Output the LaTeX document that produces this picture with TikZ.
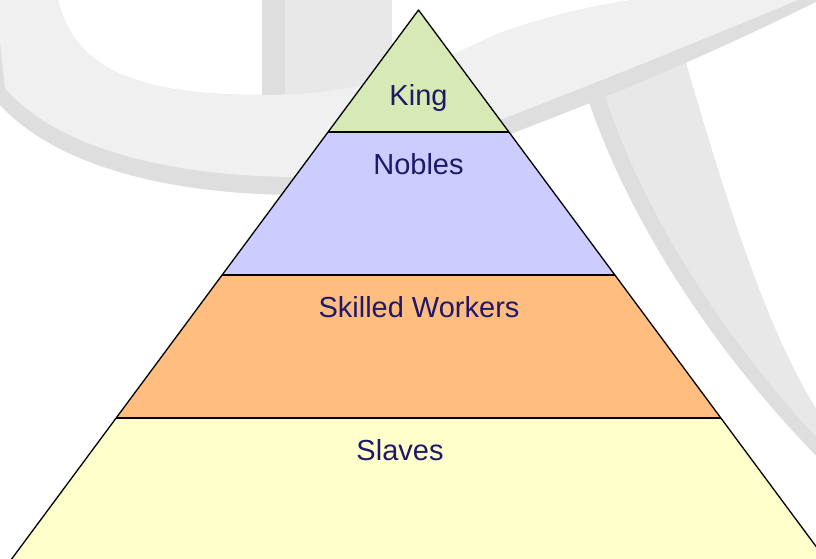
\documentclass[tikz,border=0pt]{standalone}
\usepackage{fontspec}
\setmainfont{Liberation Sans}
\definecolor{kingc}{RGB}{215,233,180}
\definecolor{noblec}{RGB}{204,204,255}
\definecolor{skillc}{RGB}{255,190,128}
\definecolor{slavec}{RGB}{255,255,204}
\definecolor{txtc}{RGB}{32,24,104}
\definecolor{wmlight}{RGB}{240,240,240}
\definecolor{wmmid}{RGB}{232,232,232}
\definecolor{wmdark}{RGB}{222,222,222}
\begin{document}
\begin{tikzpicture}[x=1pt,y=-1pt,
  band/.style={line width=1.3pt,line join=round},
  divline/.style={line width=1.8pt},
  lbl/.style={anchor=base,text=txtc,inner sep=0pt,font=\fontsize{29}{34}\selectfont}]
\useasboundingbox (0,0) rectangle (816,559);
\clip (0,0) rectangle (816,559);
% watermark
\fill[wmdark] (262,-5) rectangle (392,100);
\fill[wmmid] (285,-5) rectangle (392,100);
\fill[wmdark] (585,90) .. controls (620,200) and (700,340) .. (830,470) -- (830,430) .. controls (780,360) and (740,250) .. (685,60) -- cycle;
\fill[wmmid] (603,90) .. controls (638,200) and (718,340) .. (848,470) -- (830,430) .. controls (780,360) and (740,250) .. (685,60) -- cycle;
\fill[wmdark] (57,-5) .. controls (70,60) and (120,95) .. (260,95) .. controls (380,95) and (440,60) .. (500,33) .. controls (580,5) and (650,-5) .. (700,-5) -- (830,-5) .. controls (700,60) and (600,100) .. (500,138) .. controls (420,170) and (380,195) .. (300,195) .. controls (180,195) and (60,170) .. (0,105) -- (-5,-5) -- cycle;
\fill[wmlight] (57,-5) .. controls (70,60) and (120,95) .. (260,95) .. controls (380,95) and (440,60) .. (500,33) .. controls (580,5) and (650,-5) .. (700,-5) -- (810,-5) .. controls (690,45) and (590,85) .. (500,120) .. controls (420,152) and (380,177) .. (300,177) .. controls (180,177) and (60,152) .. (5,88) -- (-5,-5) -- cycle;
% pyramid layers
\fill[slavec] (116.2,418) -- (720.8,418) -- (840.9,580) -- (-3.9,580) -- cycle;
\fill[skillc] (222.1,275) -- (614.9,275) -- (720.8,418) -- (116.2,418) -- cycle;
\fill[noblec] (328.1,132) -- (508.9,132) -- (614.9,275) -- (222.1,275) -- cycle;
\fill[kingc] (418.5,10) -- (508.9,132) -- (328.1,132) -- cycle;
\draw[band] (-3.9,580) -- (418.5,10) -- (840.9,580);
\draw[divline] (328.1,132) -- (508.9,132);
\draw[divline] (222.1,275) -- (614.9,275);
\draw[divline] (116.2,418) -- (720.8,418);
% labels
\node[lbl] (king) at (418.5,106) {King};
\node[lbl] (nobles) at (418.5,174) {Nobles};
\node[lbl] (skilled) at (419,317) {Skilled Workers};
\node[lbl] (slaves) at (400,460) {Slaves};
\end{tikzpicture}
\end{document}
